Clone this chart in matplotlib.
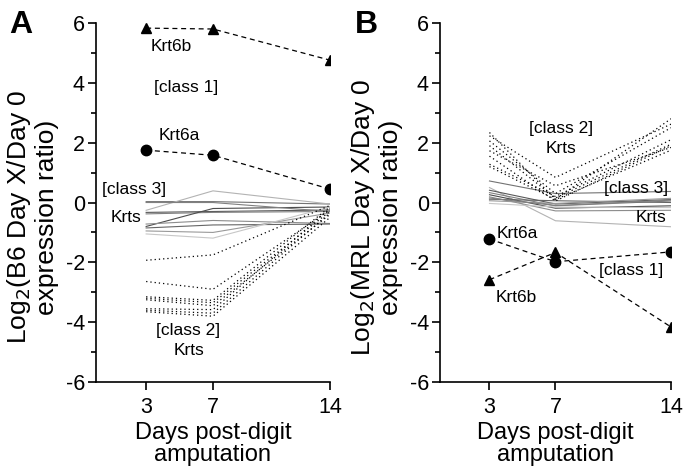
import matplotlib
matplotlib.use("Agg")
import matplotlib.pyplot as plt
from matplotlib.ticker import MultipleLocator

plt.rcParams["font.family"] = ["Liberation Sans", "DejaVu Sans"]
plt.rcParams["axes.unicode_minus"] = False

days = [3, 7, 14]

# panel A (B6)
a_krt6b = [5.83, 5.80, 4.76]
a_krt6a = [1.75, 1.58, 0.45]
a_class3 = [
    [0.03, 0.03, -0.05],
    [-0.26, 0.39, -0.05],
    [-0.33, -0.30, -0.25],
    [-0.38, -0.33, -0.30],
    [-0.80, -0.20, -0.15],
    [-0.72, -0.60, -0.70],
    [-0.85, -0.75, -0.72],
    [-0.95, -1.00, -0.35],
    [-1.05, -1.19, -0.15],
    [0.00, 0.00, -0.30],
]
a_class2 = [
    [-1.93, -1.75, -0.10],
    [-2.64, -2.90, -0.25],
    [-3.15, -3.27, -0.15],
    [-3.20, -3.35, -0.30],
    [-3.25, -3.45, -0.40],
    [-3.55, -3.58, -0.20],
    [-3.60, -3.70, -0.35],
    [-3.65, -3.80, -0.50],
]

# panel B (MRL)
b_krt6a = [-1.22, -1.98, -1.65]
b_krt6b = [-2.58, -1.67, -4.16]
b_class3 = [
    [0.72, 0.30, 0.37],
    [0.50, -0.61, -0.81],
    [0.41, -0.05, 0.10],
    [0.33, -0.11, 0.05],
    [0.26, -0.19, -0.11],
    [0.19, -0.28, -0.26],
    [0.11, 0.06, 0.00],
    [0.06, -0.03, 0.14],
    [-0.03, -0.15, -0.17],
    [0.15, -0.10, 0.08],
]
b_class2 = [
    [2.34, 0.11, 2.80],
    [2.23, 0.84, 2.62],
    [2.06, 0.30, 2.50],
    [1.90, 0.15, 1.95],
    [1.73, 0.56, 1.84],
    [1.55, 0.05, 1.90],
    [1.28, 0.20, 2.10],
    [1.20, 0.10, 1.75],
]

grays = ["0.45", "0.7", "0.35", "0.5", "0.3", "0.55", "0.4", "0.6", "0.78", "0.5"]


def draw_panel(ax, class3, class2, krt6a, krt6b, ylabel, letter):
    for vals, g in zip(class3, grays):
        ax.plot(days, vals, color=g, lw=0.8)
    for vals in class2:
        ax.plot(days, vals, color="black", lw=0.9, linestyle=(0, (1, 2.4)))
    ax.plot(days, krt6a, color="black", lw=0.9, linestyle=(0, (4, 3)),
            marker="o", markersize=7.5)
    ax.plot(days, krt6b, color="black", lw=0.9, linestyle=(0, (4, 3)),
            marker="^", markersize=7.5)

    ax.set_xlim(0, 14)
    ax.set_ylim(-6, 6)
    ax.set_xticks(days)
    ax.yaxis.set_major_locator(MultipleLocator(2))
    ax.yaxis.set_minor_locator(MultipleLocator(1))
    ax.spines["top"].set_visible(False)
    ax.spines["right"].set_visible(False)
    ax.spines["left"].set_linewidth(1.2)
    ax.spines["bottom"].set_linewidth(1.2)
    ax.tick_params(axis="both", which="major", labelsize=15.5, length=6, width=1.2)
    ax.tick_params(axis="y", which="minor", length=3.5, width=1.2)
    ax.tick_params(axis="y", which="major", pad=2)
    ax.tick_params(axis="x", pad=5)
    ax.set_xlabel("Days post-digit\namputation", fontsize=17, linespacing=1.0,
                  labelpad=3)
    ax.set_ylabel(ylabel, fontsize=19, linespacing=1.1, labelpad=5, y=0.46)
    ax.text(-0.32, 0.995, letter, transform=ax.transAxes, fontsize=23,
            fontweight="bold", ha="center", va="center")


fig = plt.figure(figsize=(6.83, 4.70), dpi=100)
ax1 = fig.add_axes([0.1406, 0.1872, 0.3424, 0.7638])
ax2 = fig.add_axes([0.6442, 0.1872, 0.3382, 0.7638])

draw_panel(ax1, a_class3, a_class2, a_krt6a, a_krt6b,
           "Log$_2$(B6 Day X/Day 0\nexpression ratio)", "A")
draw_panel(ax2, b_class3, b_class2, b_krt6a, b_krt6b,
           "Log$_2$(MRL Day X/Day 0\nexpression ratio)", "B")

fs = 12.5
ax1.text(4.5, 5.2, "Krt6b", fontsize=fs, ha="center", va="center")
ax1.text(5.4, 3.86, "[class 1]", fontsize=fs, ha="center", va="center")
ax1.text(5.0, 2.25, "Krt6a", fontsize=fs, ha="center", va="center")
ax1.text(2.27, 0.42, "[class 3]", fontsize=fs, ha="center", va="center")
ax1.text(1.8, -0.51, "Krts", fontsize=fs, ha="center", va="center")
ax1.text(5.5, -4.28, "[class 2]", fontsize=fs, ha="center", va="center")
ax1.text(5.55, -4.96, "Krts", fontsize=fs, ha="center", va="center")

ax2.text(7.34, 2.46, "[class 2]", fontsize=fs, ha="center", va="center")
ax2.text(7.34, 1.8, "Krts", fontsize=fs, ha="center", va="center")
ax2.text(11.9, 0.46, "[class 3]", fontsize=fs, ha="center", va="center")
ax2.text(12.8, -0.5, "Krts", fontsize=fs, ha="center", va="center")
ax2.text(4.67, -1.05, "Krt6a", fontsize=fs, ha="center", va="center")
ax2.text(11.6, -2.28, "[class 1]", fontsize=fs, ha="center", va="center")
ax2.text(4.6, -3.19, "Krt6b", fontsize=fs, ha="center", va="center")

fig.savefig("out.png", dpi=100)
